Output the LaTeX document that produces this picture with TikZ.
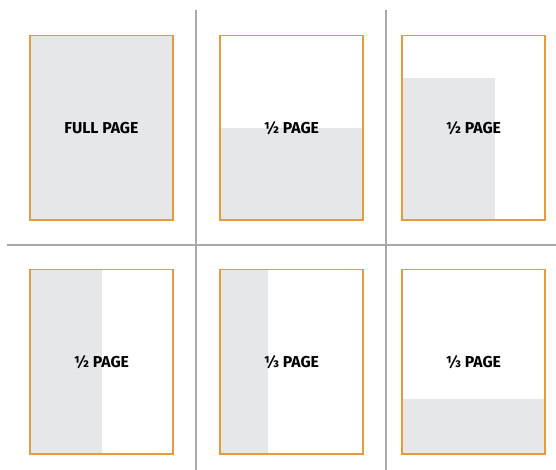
\documentclass[tikz,border=0pt]{standalone}
\usepackage{fontspec}
\setmainfont{Fira Sans}
\definecolor{pageorange}{HTML}{E89A3C}
\definecolor{shadegray}{HTML}{E6E7E8}
\definecolor{divgray}{HTML}{A7A9AC}
\begin{document}
\begin{tikzpicture}[x=1pt,y=-1pt,
  pagebox/.style={draw=pageorange, line width=1.6pt},
  shadebox/.style={fill=shadegray},
  lbl/.style={font=\bfseries\fontsize{15.8}{18}\selectfont, text=black, inner sep=0pt},
  divider/.style={draw=divgray, line width=1.8pt}]
\useasboundingbox (0,0) rectangle (556,470);
% dividers
\coordinate (hl) at (7,245);
\coordinate (hr) at (556,245);
\coordinate (v1t) at (196,10);
\coordinate (v1b) at (196,470);
\coordinate (v2t) at (386.3,10);
\coordinate (v2b) at (386.3,470);
\draw[divider] (hl) -- (hr);
\draw[divider] (v1t) -- (v1b);
\draw[divider] (v2t) -- (v2b);
% row 1
\fill[shadebox] (30,35.5) rectangle (172.7,220);
\fill[shadebox] (220,127.7) rectangle (362.7,220);
\fill[shadebox] (402,78) rectangle (495,220);
% row 2
\fill[shadebox] (30,269.3) rectangle (101.7,453.7);
\fill[shadebox] (220,269.3) rectangle (267.7,453.7);
\fill[shadebox] (402,399) rectangle (544.7,453.7);
% labels
\node[lbl] (t1) at (101.4,128) {FULL PAGE};
\node[lbl] (t2) at (291.4,128) {½ PAGE};
\node[lbl] (t3) at (473.4,128) {½ PAGE};
\node[lbl] (t4) at (101.4,361.8) {½ PAGE};
\node[lbl] (t5) at (291.4,361.8) {⅓ PAGE};
\node[lbl] (t6) at (473.4,361.8) {⅓ PAGE};
% page outlines
\draw[pagebox] (30,35.5) rectangle (172.7,220);
\draw[pagebox] (220,35.5) rectangle (362.7,220);
\draw[pagebox] (402,35.5) rectangle (544.7,220);
\draw[pagebox] (30,269.3) rectangle (172.7,453.7);
\draw[pagebox] (220,269.3) rectangle (362.7,453.7);
\draw[pagebox] (402,269.3) rectangle (544.7,453.7);
\end{tikzpicture}
\end{document}
